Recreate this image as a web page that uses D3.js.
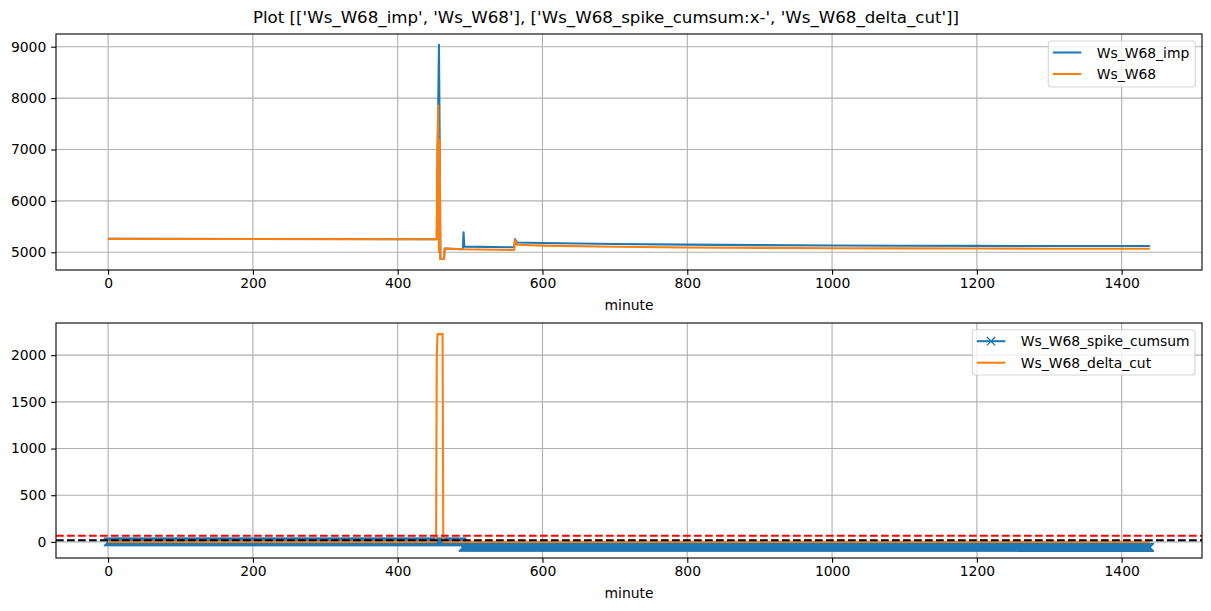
<!DOCTYPE html>
<html>
<head>
<meta charset="utf-8">
<script src="https://cdn.jsdelivr.net/npm/d3@7"></script>
<style>
  html, body { margin: 0; padding: 0; background: #ffffff; }
  svg { display: block; font-family: "DejaVu Sans", sans-serif; }
</style>
</head>
<body>
<svg id="chart" width="1211" height="611"></svg>
<script>
// ---------------- data ----------------
const titleText = "Plot [['Ws_W68_imp', 'Ws_W68'], ['Ws_W68_spike_cumsum:x-', 'Ws_W68_delta_cut']]";
const xLabel = "minute";
const xTicks = [0, 200, 400, 600, 800, 1000, 1200, 1400];
const topYTicks = [5000, 6000, 7000, 8000, 9000];
const bottomYTicks = [0, 500, 1000, 1500, 2000];

// Ws_W68_imp (breakpoints: minute, value)
const impMinutes = [0, 454, 455, 456, 457, 458, 459, 464, 465, 490, 491, 492, 560, 561, 562, 565, 600, 700, 800, 900, 1000, 1100, 1200, 1300, 1439];
const impValues  = [5262, 5255, 6890, 7860, 9038, 7180, 4870, 4870, 5075, 5060, 5390, 5110, 5097, 5097, 5260, 5190, 5180, 5163, 5150, 5140, 5133, 5128, 5125, 5123, 5122];
// Ws_W68
const w68Minutes = [0, 454, 455, 456, 457, 458, 459, 464, 465, 490, 491, 492, 560, 561, 562, 565, 600, 700, 800, 900, 1000, 1100, 1200, 1300, 1439];
const w68Values  = [5262, 5255, 6890, 7860, 5000, 7180, 4870, 4870, 5075, 5060, 5060, 5058, 5045, 5045, 5240, 5148, 5130, 5108, 5095, 5086, 5080, 5076, 5073, 5071, 5068];

// Ws_W68_spike_cumsum (constant runs, one sample per minute)
const cumsumRunStart = [0, 490];
const cumsumRunEnd   = [489, 1439];
const cumsumRunValue = [0, -58];

// Ws_W68_delta_cut (breakpoints)
const deltaMinutes = [0, 453, 454, 455, 461, 462, 463, 1439];
const deltaValues  = [0, 0, 1975, 2225, 2225, 2230, 0, 0];

// horizontal reference lines
const redLineValue = 65;
const blackLineValue = 18;

// ---------------- layout ----------------
const C_BLUE = "#1f77b4", C_ORANGE = "#ff7f0e";
const FS = 13.9;
const left = 56, right = 1202;
const top1 = 34, bot1 = 270;
const top2 = 323, bot2 = 558;
const LW = 2.08;

const svg = d3.select("#chart");

svg.append("text")
  .attr("x", 606).attr("y", 23)
  .attr("text-anchor", "middle")
  .attr("font-size", 16.67)
  .text(titleText);

const x = d3.scaleLinear().domain([-71.95, 1510.95]).range([left, right]);

function drawPanel(top, bot, yDomain, yTicks, idName) {
  const y = d3.scaleLinear().domain(yDomain).range([bot, top]);
  const g = svg.append("g");
  svg.append("clipPath").attr("id", idName)
    .append("rect").attr("x", left).attr("y", top).attr("width", right - left).attr("height", bot - top);
  const grid = g.append("g");
  xTicks.forEach(t => grid.append("line")
    .attr("x1", x(t)).attr("x2", x(t)).attr("y1", top).attr("y2", bot)
    .attr("stroke", "#b0b0b0").attr("stroke-width", 1.1));
  yTicks.forEach(t => grid.append("line")
    .attr("x1", left).attr("x2", right).attr("y1", y(t)).attr("y2", y(t))
    .attr("stroke", "#b0b0b0").attr("stroke-width", 1.1));
  const xa = g.append("g").attr("transform", `translate(0,${bot})`)
    .call(d3.axisBottom(x).tickValues(xTicks).tickSize(4.86).tickSizeOuter(0).tickPadding(3.6).tickFormat(d3.format("d")));
  const ya = g.append("g").attr("transform", `translate(${left},0)`)
    .call(d3.axisLeft(y).tickValues(yTicks).tickSize(4.86).tickSizeOuter(0).tickPadding(4.86).tickFormat(d3.format("d")));
  [xa, ya].forEach(a => {
    a.select(".domain").remove();
    a.selectAll("line").attr("stroke", "#000").attr("stroke-width", 1.1);
    a.selectAll("text").attr("font-size", FS).attr("fill", "#000").attr("font-family", "DejaVu Sans");
  });
  g.append("text").attr("x", (left + right) / 2).attr("y", bot + 40)
    .attr("text-anchor", "middle").attr("font-size", FS).text(xLabel);
  const data = svg.append("g").attr("clip-path", `url(#${idName})`);
  return { y, data, g };
}

function frame(top, bot) {
  svg.append("rect").attr("x", left).attr("y", top).attr("width", right - left).attr("height", bot - top)
    .attr("fill", "none").attr("stroke", "#000").attr("stroke-width", 1.1);
}

function legend(x0, y0, w, h, items) {
  const g = svg.append("g");
  g.append("rect").attr("x", x0).attr("y", y0).attr("width", w).attr("height", h)
    .attr("rx", 3).attr("ry", 3)
    .attr("fill", "#fff").attr("fill-opacity", 0.8)
    .attr("stroke", "#cccccc").attr("stroke-opacity", 0.8).attr("stroke-width", 1.1);
  items.forEach((it, i) => {
    const yy = y0 + 11.5 + i * 21.5;
    g.append("line").attr("x1", x0 + 4.5).attr("x2", x0 + 33).attr("y1", yy).attr("y2", yy)
      .attr("stroke", it.color).attr("stroke-width", LW);
    if (it.marker) {
      const cx = x0 + 18.7, s = 4.17;
      g.append("path").attr("d", `M${cx - s},${yy - s}L${cx + s},${yy + s}M${cx - s},${yy + s}L${cx + s},${yy - s}`)
        .attr("stroke", it.color).attr("stroke-width", 1.39).attr("fill", "none");
    }
    g.append("text").attr("x", x0 + 48.5).attr("y", yy + 5).attr("font-size", FS).text(it.label);
  });
}

// ---------------- top panel ----------------
const p1 = drawPanel(top1, bot1, [4656, 9247], topYTicks, "clip1");
const line1 = d3.line().x(d => x(d[0])).y(d => p1.y(d[1]));
p1.data.append("path").datum(d3.zip(impMinutes, impValues)).attr("d", line1)
  .attr("fill", "none").attr("stroke", C_BLUE).attr("stroke-width", LW).attr("stroke-linejoin", "round");
p1.data.append("path").datum(d3.zip(w68Minutes, w68Values)).attr("d", line1)
  .attr("fill", "none").attr("stroke", C_ORANGE).attr("stroke-width", LW).attr("stroke-linejoin", "round");
frame(top1, bot1);
legend(1048.3, 41, 147, 46, [
  { label: "Ws_W68_imp", color: C_BLUE },
  { label: "Ws_W68", color: C_ORANGE }
]);

// ---------------- bottom panel ----------------
const p2 = drawPanel(top2, bot2, [-172.4, 2344.4], bottomYTicks, "clip2");
const line2 = d3.line().x(d => x(d[0])).y(d => p2.y(d[1]));
const cumsumPoints = [];
cumsumRunStart.forEach((s, i) => {
  d3.range(s, cumsumRunEnd[i] + 1).forEach(m => cumsumPoints.push([m, cumsumRunValue[i]]));
});
p2.data.append("path").datum(cumsumPoints).attr("d", line2)
  .attr("fill", "none").attr("stroke", C_BLUE).attr("stroke-width", LW).attr("stroke-linejoin", "round");
const ms = 4.17;
p2.data.append("path")
  .attr("d", cumsumPoints.map(d => {
    const cx = x(d[0]), cy = p2.y(d[1]);
    return `M${cx - ms},${cy - ms}L${cx + ms},${cy + ms}M${cx - ms},${cy + ms}L${cx + ms},${cy - ms}`;
  }).join(""))
  .attr("fill", "none").attr("stroke", C_BLUE).attr("stroke-width", 1.39);
p2.data.append("path").datum(d3.zip(deltaMinutes, deltaValues)).attr("d", line2)
  .attr("fill", "none").attr("stroke", C_ORANGE).attr("stroke-width", LW).attr("stroke-linejoin", "round");
[[redLineValue, "#ff0000"], [blackLineValue, "#000000"]].forEach(([v, c]) => {
  p2.data.append("line").attr("x1", left).attr("x2", right).attr("y1", p2.y(v)).attr("y2", p2.y(v))
    .attr("stroke", c).attr("stroke-width", LW).attr("stroke-dasharray", "7.7,3.3");
});
frame(top2, bot2);
legend(972.3, 329.7, 222.7, 45.3, [
  { label: "Ws_W68_spike_cumsum", color: C_BLUE, marker: true },
  { label: "Ws_W68_delta_cut", color: C_ORANGE }
]);
</script>
</body>
</html>
